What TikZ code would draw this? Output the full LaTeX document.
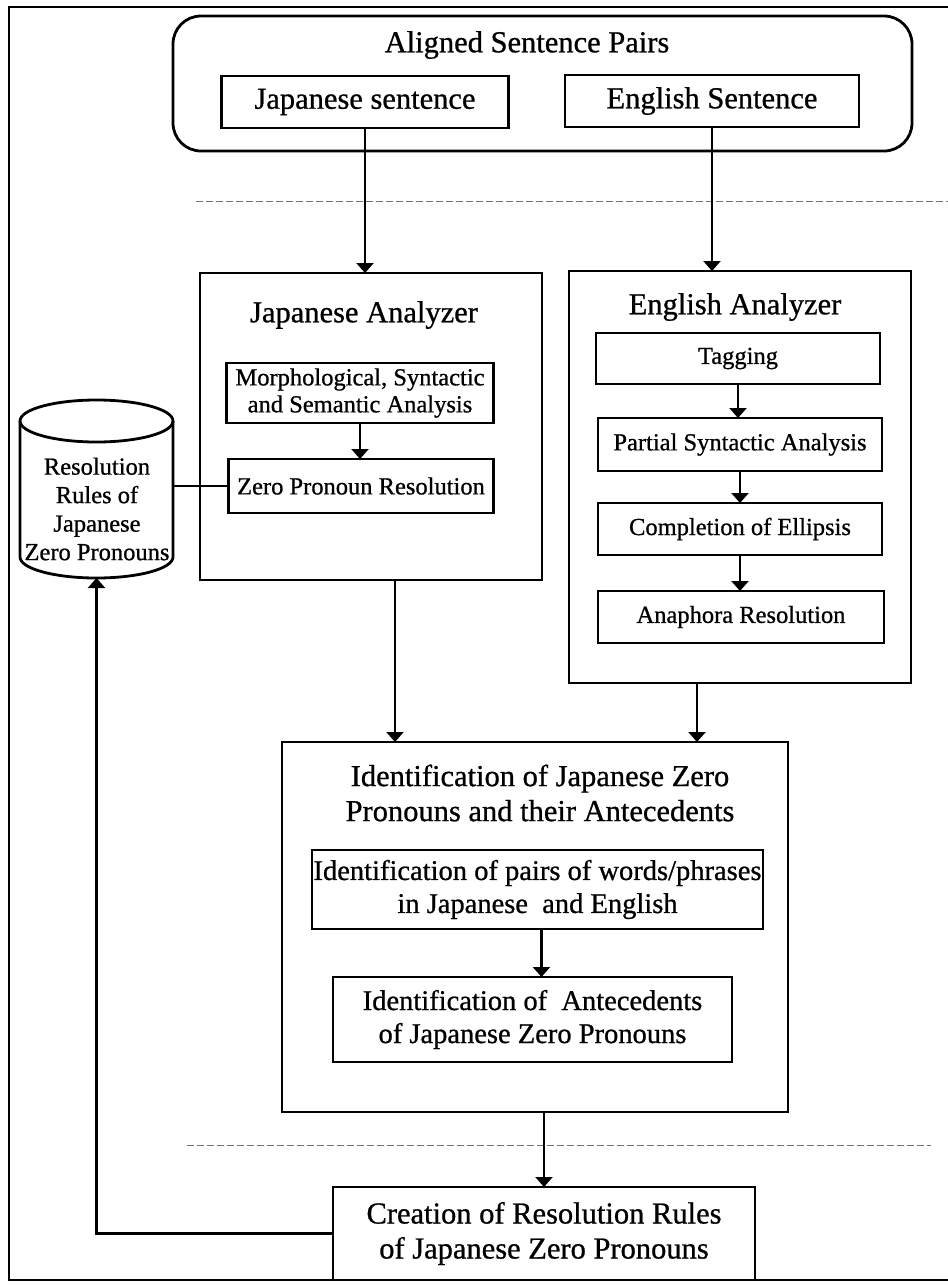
\documentclass[tikz,border=0pt]{standalone}
\usepackage{fontspec}
\setmainfont{Liberation Serif}[FakeBold=0.8]
\usetikzlibrary{arrows.meta}
\begin{document}
\begin{tikzpicture}[x=1pt,y=-1pt,
  box/.style={draw, line width=2.8pt, inner sep=0pt, outer sep=0pt, align=center},
  big/.style={font=\fontsize{30.5}{35}\selectfont},
  small/.style={font=\fontsize{24.5}{27}\selectfont},
  mid/.style={font=\fontsize{28.5}{33}\selectfont},
  txt/.style={inner sep=0pt, outer sep=0pt, align=center},
  conn/.style={line width=2.3pt},
  arr/.style={conn, -{Triangle[length=10pt,width=17pt]}},
  frame/.style={line width=2pt},
  scanline/.style={line width=1pt, black!55, dash pattern=on 7pt off 3pt},
]
\useasboundingbox (0,0) rectangle (948,1286);

% outer frame (right side cropped)
\draw[frame] (948,7) -- (9,7) -- (9,1280) -- (948,1280);

% faint dashed boundaries of the middle region
\draw[scanline] (196,201) -- (948,201);
\draw[scanline] (187,1145) -- (931,1145);

% aligned sentence pairs
\node[box, rounded corners=28pt, minimum width=739pt, minimum height=135pt] (pairs) at (542.5,83.5) {};
\node[txt,big] (title) at (527,45) {Aligned Sentence Pairs};
\node[box,big,minimum width=287pt,minimum height=52pt] (jsent) at (365,102) {Japanese sentence};
\node[box,big,minimum width=294pt,minimum height=52pt] (esent) at (712,101) {English Sentence};

% Japanese analyzer
\node[box, minimum width=342pt, minimum height=307pt] (jaz) at (371,426.5) {};
\node[txt,big] (jaztitle) at (364,315) {Japanese Analyzer};
\node[box,small,minimum width=267pt,minimum height=60pt] (morph) at (360,393) {Morphological, Syntactic\\and Semantic Analysis};
\node[box,small,minimum width=265pt,minimum height=54pt] (zpr) at (361,486) {Zero Pronoun Resolution};

% English analyzer
\node[box, minimum width=342pt, minimum height=412pt] (eaz) at (740,477) {};
\node[txt,big] (eaztitle) at (735,307) {English Analyzer};
\node[box,small,minimum width=284pt,minimum height=51pt] (tag) at (738,358.5) {Tagging};
\node[box,small,minimum width=284pt,minimum height=53pt] (part) at (740,444.5) {Partial Syntactic Analysis};
\node[box,small,minimum width=284pt,minimum height=52pt] (comp) at (740,529) {Completion of Ellipsis};
\node[box,small,minimum width=286pt,minimum height=52pt] (ana) at (741,617) {Anaphora Resolution};

% identification
\node[box, minimum width=506pt, minimum height=370pt] (ident) at (535,927) {};
\node[txt,big] (idtitle) at (540,793) {Identification of Japanese Zero\\Pronouns and their Antecedents};
\node[box,mid,minimum width=451pt,minimum height=79pt] (wp) at (537.5,889.5) {Identification of pairs of words/phrases\\in Japanese\ \ and English};
\node[box,mid,minimum width=399pt,minimum height=85pt] (ant) at (532.5,1019.5) {Identification of\ \ Antecedents\\of Japanese Zero Pronouns};

% creation
\node[box,big,minimum width=422pt,minimum height=93pt] (create) at (544,1233.5) {Creation of Resolution Rules\\of Japanese Zero Pronouns};

% database cylinder
\node[inner sep=0pt, outer sep=0pt, minimum width=153pt, minimum height=178pt] (db) at (96.5,489) {};
\draw[line width=2.8pt] ([yshift=-21pt]db.north) ellipse [x radius=76.5pt, y radius=21pt];
\draw[line width=2.8pt] ([yshift=-21pt]db.north west) -- ([yshift=21pt]db.south west)
  arc[start angle=180, end angle=360, x radius=76.5pt, y radius=21pt]
  -- ([yshift=-21pt]db.north east);
\node[txt, font=\fontsize{24.5}{28.5}\selectfont] (dbtext) at (97,509) {Resolution\\Rules of\\Japanese\\Zero Pronouns};

% connectors
\draw[arr] (jsent.south) -- (jsent.south |- jaz.north);
\draw[arr] (esent.south) -- (esent.south |- eaz.north);
\draw[arr] (morph.south) -- (morph.south |- zpr.north);
\draw[conn] (zpr.west) -- (zpr.west -| db.east);
\draw[arr] (tag.south) -- (tag.south |- part.north);
\draw[arr] (part.south) -- (part.south |- comp.north);
\draw[arr] (comp.south) -- (comp.south |- ana.north);
\draw[arr] ([xshift=24pt]jaz.south) -- ([xshift=24pt]jaz.south |- ident.north);
\draw[arr] ([xshift=-43pt]eaz.south) -- ([xshift=-43pt]eaz.south |- ident.north);
\draw[arr] ([xshift=4pt]wp.south) -- ([xshift=4pt]wp.south |- ant.north);
\draw[arr] (create.north |- ident.south) -- (create.north);
\draw[arr] (create.west) -| (db.south);
\end{tikzpicture}
\end{document}
